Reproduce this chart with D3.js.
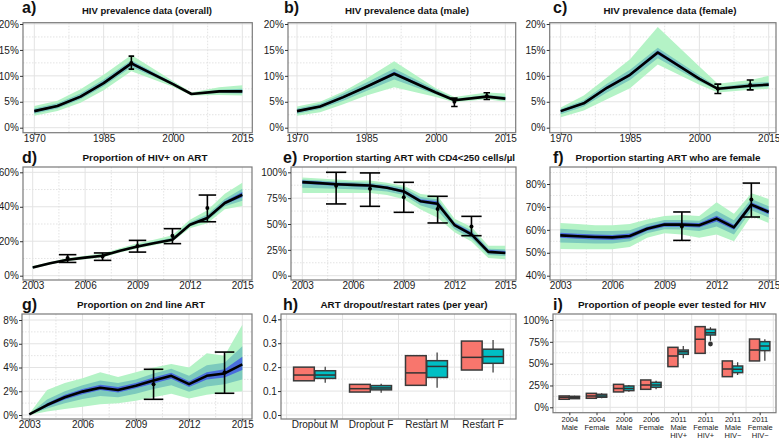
<!DOCTYPE html>
<html>
<head>
<meta charset="utf-8">
<script src="https://cdn.jsdelivr.net/npm/d3@7"></script>
<style>
  body { margin: 0; background: #fff; }
</style>
</head>
<body>
<div id="chart"></div>
<script>
const FONT = '"Liberation Sans", Arial, Helvetica, sans-serif';

// ---------- data ----------
// a) HIV prevalence (overall), %
const yearsPrev = [1970, 1975, 1980, 1985, 1991, 2000, 2004, 2010, 2015];
const medA = [3.2, 4.2, 6.0, 8.6, 12.4, 8.4, 6.5, 7.0, 7.0];
const outerLoA = [2.3, 3.2, 4.8, 7.2, 10.9, 7.9, 6.2, 6.3, 6.2];
const outerHiA = [4.2, 5.2, 7.4, 10.2, 14.0, 9.0, 6.8, 7.8, 8.2];
const midLoA = [2.7, 3.7, 5.5, 8.0, 11.7, 8.2, 6.4, 6.7, 6.6];
const midHiA = [3.7, 4.7, 6.6, 9.3, 13.0, 8.7, 6.6, 7.3, 7.5];
const innerLoA = [3.0, 4.0, 5.8, 8.4, 12.1, 8.3, 6.45, 6.9, 6.85];
const innerHiA = [3.4, 4.4, 6.2, 8.9, 12.7, 8.6, 6.55, 7.1, 7.2];
const obsYearA = [1991], obsValA = [12.5], obsLoA = [11.3], obsHiA = [13.8];

// b) HIV prevalence (male), %
const yearsPrevMF = [1970, 1975, 1980, 1985, 1991, 2000, 2004, 2011, 2015];
const medB = [3.2, 4.1, 5.9, 7.9, 10.4, 6.8, 5.3, 6.0, 5.6];
const outerLoB = [2.3, 3.0, 4.5, 6.2, 7.8, 5.9, 4.9, 5.5, 5.0];
const outerHiB = [4.1, 5.0, 7.0, 9.5, 12.8, 7.6, 5.9, 6.8, 6.6];
const midLoB = [2.7, 3.6, 5.2, 7.1, 9.3, 6.4, 5.1, 5.8, 5.3];
const midHiB = [3.7, 4.6, 6.6, 8.7, 11.4, 7.3, 5.6, 6.3, 6.0];
const innerLoB = [3.0, 3.9, 5.7, 7.7, 10.1, 6.7, 5.2, 5.9, 5.5];
const innerHiB = [3.4, 4.3, 6.1, 8.1, 10.8, 7.0, 5.4, 6.1, 5.8];
const obsYearB = [2004, 2011], obsValB = [5.0, 6.1], obsLoB = [4.1, 5.45], obsHiB = [5.7, 6.75];

// c) HIV prevalence (female), %
const medC = [3.2, 4.7, 7.7, 10.2, 14.5, 9.4, 7.5, 8.1, 8.3];
const outerLoC = [2.0, 3.3, 5.5, 7.6, 12.2, 8.3, 6.8, 7.3, 7.5];
const outerHiC = [3.9, 6.2, 9.7, 13.2, 19.4, 11.8, 8.5, 9.2, 10.0];
const midLoC = [2.6, 4.1, 6.8, 9.2, 13.4, 8.9, 7.2, 7.7, 7.9];
const midHiC = [3.6, 5.3, 8.5, 11.2, 15.4, 10.1, 7.8, 8.6, 8.8];
const innerLoC = [3.0, 4.5, 7.4, 9.9, 14.1, 9.3, 7.4, 8.0, 8.1];
const innerHiC = [3.4, 4.9, 8.0, 10.5, 14.9, 9.7, 7.6, 8.2, 8.5];
const obsYearC = [2004, 2011], obsValC = [7.5, 8.25], obsLoC = [6.6, 7.3], obsHiC = [8.4, 9.2];

// d) Proportion of HIV+ on ART, %
const yearsArt = [2003, 2004, 2005, 2006, 2007, 2008, 2009, 2010, 2011, 2012, 2013, 2014, 2015];
const medD = [4.8, 7.2, 9.3, 10.5, 11.6, 14.5, 17.0, 19.0, 20.9, 29.6, 33.5, 42.2, 47.0];
const outerLoD = [4.0, 6.5, 8.5, 9.6, 10.6, 13.5, 15.8, 17.8, 19.8, 27.5, 30.5, 38.5, 40.5];
const outerHiD = [5.6, 8.0, 10.3, 11.6, 12.9, 16.0, 18.8, 21.0, 23.5, 32.5, 38.0, 47.5, 54.0];
const midLoD = [4.4, 6.9, 8.9, 10.1, 11.1, 14.0, 16.4, 18.4, 20.3, 28.5, 32.0, 40.3, 43.5];
const midHiD = [5.2, 7.6, 9.8, 11.0, 12.2, 15.2, 17.8, 20.0, 22.0, 31.0, 35.5, 44.5, 50.5];
const innerLoD = [4.6, 7.0, 9.1, 10.3, 11.4, 14.3, 16.8, 18.8, 20.6, 29.2, 32.9, 41.5, 45.5];
const innerHiD = [5.0, 7.4, 9.5, 10.7, 11.8, 14.7, 17.2, 19.2, 21.2, 30.0, 34.2, 43.2, 48.5];
const obsYearD = [2005, 2007, 2009, 2011, 2013];
const obsValD = [10.3, 11.2, 17.2, 23.2, 39.3];
const obsLoD = [7.7, 8.9, 13.7, 18.6, 31.3];
const obsHiD = [12.2, 13.2, 20.5, 27.3, 46.8];

// e) Proportion starting ART with CD4<250, %
const medE = [90.5, 89.5, 88.5, 87.8, 87.3, 85.0, 81.5, 72.0, 69.5, 49.0, 40.0, 23.0, 22.0];
const outerLoE = [80, 80, 80, 80, 80, 78, 74, 64, 56, 42, 33, 17, 16];
const outerHiE = [95, 94, 93, 92, 92, 90, 87, 79, 77, 55, 47, 29, 29];
const midLoE = [85, 84.5, 84, 83.5, 83, 81.5, 78, 68, 63, 45, 36, 20, 19];
const midHiE = [93, 92, 91, 90.5, 90, 88, 85, 76, 74, 52, 44, 26, 25.5];
const innerLoE = [89, 88, 87, 86.5, 86, 84, 80, 70.5, 68, 47.5, 38.5, 22, 21];
const innerHiE = [92, 91, 90, 89, 88.5, 86.5, 83, 74, 72, 51, 42, 25, 24];
const obsYearE = [2005, 2007, 2009, 2011, 2013];
const obsValE = [87.1, 84.2, 75.8, 64.5, 47.7];
const obsLoE = [69.4, 67.1, 61.3, 51.0, 38.7];
const obsHiE = [100, 99.4, 90.3, 76.8, 57.4];

// f) Proportion starting ART who are female, %
const medF = [57.6, 57.2, 56.9, 56.7, 57.3, 60.5, 62.3, 62.3, 62.0, 64.9, 61.1, 71.0, 67.8];
const outerLoF = [51.6, 51.5, 51.5, 51.5, 52.5, 56.5, 58.5, 58.0, 56.5, 58.0, 55.0, 66.0, 63.0];
const outerHiF = [63.0, 62.5, 62.0, 62.0, 62.5, 64.5, 66.0, 66.5, 66.0, 72.0, 67.0, 76.0, 73.5];
const midLoF = [54.5, 54.3, 54.0, 54.0, 55.0, 58.5, 60.3, 60.2, 59.5, 61.5, 58.0, 68.5, 65.4];
const midHiF = [60.5, 60.0, 59.5, 59.5, 59.8, 62.5, 64.3, 64.3, 64.0, 68.3, 64.2, 73.5, 70.3];
const innerLoF = [56.5, 56.1, 55.8, 55.6, 56.2, 59.6, 61.4, 61.4, 61.0, 63.6, 60.0, 70.0, 66.8];
const innerHiF = [58.7, 58.3, 58.0, 57.8, 58.4, 61.4, 63.2, 63.2, 63.0, 66.2, 62.2, 72.0, 68.8];
const obsYearF = [2010, 2014], obsValF = [61.5, 73.2], obsLoF = [55.4, 65.6], obsHiF = [67.8, 80.4];

// g) Proportion on 2nd line ART, %
const medG = [0.05, 0.84, 1.5, 1.97, 2.3, 2.1, 2.47, 2.9, 3.3, 2.6, 3.3, 3.5, 4.27];
const outerLoG = [0, 0.3, 0.5, 0.7, 0.9, 1.0, 1.2, 1.5, 1.8, 1.4, 1.7, 1.9, 2.0];
const outerHiG = [0.1, 2.1, 2.7, 3.1, 3.6, 3.2, 3.6, 4.0, 4.3, 4.0, 5.2, 5.0, 7.6];
const midLoG = [0.02, 0.55, 1.0, 1.35, 1.6, 1.5, 1.8, 2.2, 2.5, 1.95, 2.4, 2.6, 3.0];
const midHiG = [0.08, 1.3, 2.0, 2.5, 2.9, 2.7, 3.0, 3.5, 3.9, 3.3, 4.2, 4.4, 5.8];
const innerLoG = [0.03, 0.7, 1.3, 1.75, 2.1, 1.9, 2.25, 2.65, 3.05, 2.35, 3.0, 3.15, 3.8];
const innerHiG = [0.07, 0.98, 1.7, 2.2, 2.55, 2.35, 2.7, 3.15, 3.55, 2.85, 3.6, 3.85, 4.9];
const obsYearG = [2010, 2014], obsValG = [2.6, 3.57], obsLoG = [1.32, 1.83], obsHiG = [3.85, 5.3];

// h) ART dropout / restart rates (per year)
const catsH = ['Dropout M', 'Dropout F', 'Restart M', 'Restart F'];
const priorQ1H = [0.143, 0.096, 0.124, 0.188];
const priorMedH = [0.167, 0.110, 0.176, 0.241];
const priorQ3H = [0.200, 0.128, 0.248, 0.309];
const postLoH = [0.135, 0.093, 0.114, 0.178];
const postQ1H = [0.153, 0.105, 0.157, 0.216];
const postMedH = [0.167, 0.113, 0.203, 0.244];
const postQ3H = [0.185, 0.123, 0.227, 0.275];
const postHiH = [0.202, 0.131, 0.261, 0.314];

// i) Proportion of people ever tested for HIV, %
const catsI = ['2004|Male', '2004|Female', '2006|Male', '2006|Female',
  '2011|Male|HIV+', '2011|Female|HIV+', '2011|Male|HIV\u2212', '2011|Female|HIV\u2212'];
const priorQ1I = [9.2, 10.3, 17.6, 20.6, 46.6, 61.8, 35.1, 53.1];
const priorMedI = [11.5, 13.0, 21.4, 25.6, 58.8, 77.9, 43.9, 65.6];
const priorQ3I = [13.0, 16.0, 26.3, 31.3, 68.7, 92.4, 53.1, 78.2];
const postLoI = [9.5, 10.3, 17.9, 20.6, 56.1, 76.3, 37.0, 53.4];
const postQ1I = [9.9, 11.5, 19.1, 22.9, 60.7, 82.8, 39.7, 64.9];
const postMedI = [11.5, 13.0, 21.4, 25.6, 63.7, 85.5, 43.5, 70.2];
const postQ3I = [12.6, 14.9, 24.4, 28.6, 65.6, 89.3, 47.3, 75.2];
const postHiI = [13.3, 16.0, 25.6, 30.5, 70.2, 91.6, 51.5, 77.9];
const outlierCatI = ['2011|Female|HIV+'], outlierValI = [72.5];

// axis ticks
const prevXTicks = [1970, 1985, 2000, 2015];
const prevYTicks = [0, 5, 10, 15, 20];
const artXTicks = [2003, 2006, 2009, 2012, 2015];
const yTicksD = [0, 20, 40, 60];
const yTicksE = [0, 25, 50, 75, 100];
const yTicksF = [40, 50, 60, 70, 80];
const yTicksG = [0, 2, 4, 6, 8];
const yTicksH = [0, 0.1, 0.2, 0.3, 0.4];
const yTicksI = [0, 25, 50, 75, 100];

// ---------- colours ----------
const BAND_COLORS = ['#b4f3c6', '#7ccabd', '#4a6ddd'];
const PRIOR_COLOR = '#F8766D';
const POST_COLOR = '#00BFC4';

const svg = d3.select('#chart').append('svg')
    .attr('width', 779)
    .attr('height', 440)
    .style('font-family', FONT);

function minorsOf(ticks, scale, lo, hi) {
    const step = ticks[1] - ticks[0];
    const out = [];
    for (let v = ticks[0] - step / 2; v <= ticks[ticks.length - 1] + step / 2 + 1e-9; v += step) {
        const px = scale(v);
        if (px > lo + 0.5 && px < hi - 0.5) out.push(v);
    }
    return out;
}

// background, grid, clip; returns groups
function setupPanel(p) {
    const g = svg.append('g');
    svg.append('clipPath').attr('id', 'clip-' + p.id)
        .append('rect')
        .attr('x', p.x0).attr('y', p.y0)
        .attr('width', p.x1 - p.x0).attr('height', p.y1 - p.y0);

    g.append('rect')
        .attr('x', p.x0).attr('y', p.y0)
        .attr('width', p.x1 - p.x0).attr('height', p.y1 - p.y0)
        .attr('fill', '#fff');

    const grid = g.append('g');
    // horizontal
    grid.selectAll('.hmin').data(minorsOf(p.yTicks, p.y, p.y0, p.y1)).join('line')
        .attr('x1', p.x0).attr('x2', p.x1)
        .attr('y1', d => p.y(d)).attr('y2', d => p.y(d))
        .attr('stroke', '#dcdcdc').attr('stroke-width', 0.8).attr('stroke-dasharray', '1.5,1.5');
    grid.selectAll('.hmaj').data(p.yTicks).join('line')
        .attr('x1', p.x0).attr('x2', p.x1)
        .attr('y1', d => p.y(d)).attr('y2', d => p.y(d))
        .attr('stroke', '#e3e3e3').attr('stroke-width', 1);
    // vertical
    if (p.xTicks) {
        grid.selectAll('.vmin').data(minorsOf(p.xTicks, p.x, p.x0, p.x1)).join('line')
            .attr('y1', p.y0).attr('y2', p.y1)
            .attr('x1', d => p.x(d)).attr('x2', d => p.x(d))
            .attr('stroke', '#dcdcdc').attr('stroke-width', 0.8).attr('stroke-dasharray', '1.5,1.5');
        grid.selectAll('.vmaj').data(p.xTicks).join('line')
            .attr('y1', p.y0).attr('y2', p.y1)
            .attr('x1', d => p.x(d)).attr('x2', d => p.x(d))
            .attr('stroke', '#e3e3e3').attr('stroke-width', 1);
    } else {
        const step = p.x.step();
        const cats = p.x.domain();
        const bounds = [p.x(cats[0]) - step / 2].concat(cats.map(c => p.x(c) + step / 2))
            .filter(v => v > p.x0 && v < p.x1);
        grid.selectAll('.vcat').data(bounds).join('line')
            .attr('y1', p.y0).attr('y2', p.y1)
            .attr('x1', d => d).attr('x2', d => d)
            .attr('stroke', '#e3e3e3').attr('stroke-width', 1);
    }

    const plot = g.append('g').attr('clip-path', `url(#clip-${p.id})`);
    return { g, plot };
}

function finishPanel(g, p) {
    g.append('rect')
        .attr('x', p.x0).attr('y', p.y0)
        .attr('width', p.x1 - p.x0).attr('height', p.y1 - p.y0)
        .attr('fill', 'none').attr('stroke', '#7a7a7a').attr('stroke-width', 1.2);

    const ya = g.append('g')
        .attr('transform', `translate(${p.x0},0)`)
        .call(d3.axisLeft(p.y).tickValues(p.yTicks).tickSize(3).tickPadding(1.2).tickFormat(p.yFmt));
    ya.select('.domain').remove();
    ya.attr('font-family', FONT).attr('font-size', 10);
    ya.selectAll('line').attr('stroke', '#333');
    ya.selectAll('text').attr('fill', '#1a1a1a');

    if (p.xTicks) {
        const xa = g.append('g')
            .attr('transform', `translate(0,${p.y1})`)
            .call(d3.axisBottom(p.x).tickValues(p.xTicks).tickSize(2.5).tickPadding(-0.5).tickFormat(d3.format('d')));
        xa.select('.domain').remove();
        xa.attr('font-family', FONT).attr('font-size', 10);
        xa.selectAll('line').attr('stroke', '#333');
        xa.selectAll('text').attr('fill', '#1a1a1a');
    }

    svg.append('text')
        .attr('x', p.letterX).attr('y', p.letterY)
        .attr('font-size', 16).attr('font-weight', 'bold').attr('fill', '#111')
        .text(p.id + ')');
    svg.append('text')
        .attr('x', p.titleX).attr('y', p.titleY)
        .attr('text-anchor', 'middle')
        .attr('font-size', 9.5).attr('font-weight', 'bold').attr('fill', '#111')
        .attr('textLength', p.titleW).attr('lengthAdjust', 'spacingAndGlyphs')
        .text(p.title);
}

function drawBands(plot, p, years, bands, med) {
    bands.forEach((b, k) => {
        const area = d3.area()
            .x(d => p.x(d))
            .y0((d, i) => p.y(b[0][i]))
            .y1((d, i) => p.y(b[1][i]));
        plot.append('path').datum(years)
            .attr('d', area)
            .attr('fill', BAND_COLORS[k]);
    });
    const line = d3.line().x(d => p.x(d)).y((d, i) => p.y(med[i]));
    plot.append('path').datum(years)
        .attr('d', line)
        .attr('fill', 'none')
        .attr('stroke', '#000')
        .attr('stroke-width', 2.6)
        .attr('stroke-linejoin', 'round');
}

function drawErrorBars(g, p, xs, vals, los, his, capYears) {
    xs.forEach((xv, i) => {
        const cx = p.x(xv);
        const half = (p.x(xv + capYears / 2) - cx);
        g.append('line')
            .attr('x1', cx).attr('x2', cx)
            .attr('y1', p.y(los[i])).attr('y2', p.y(his[i]))
            .attr('stroke', '#000').attr('stroke-width', 1.6);
        [los[i], his[i]].forEach(v => {
            g.append('line')
                .attr('x1', cx - half).attr('x2', cx + half)
                .attr('y1', p.y(v)).attr('y2', p.y(v))
                .attr('stroke', '#000').attr('stroke-width', 1.6);
        });
        g.append('circle')
            .attr('cx', cx).attr('cy', p.y(vals[i]))
            .attr('r', 2).attr('fill', '#000');
    });
}

function drawBoxes(g, p, cats, q1, med, q3, color, side, lo, hi) {
    const step = p.x.step();
    const w = step * 0.37;
    cats.forEach((c, i) => {
        const cx = p.x(c) + side * step * 0.19;
        if (lo) {
            g.append('line')
                .attr('x1', cx).attr('x2', cx)
                .attr('y1', p.y(lo[i])).attr('y2', p.y(hi[i]))
                .attr('stroke', '#333').attr('stroke-width', 1.2);
        }
        g.append('rect')
            .attr('x', cx - w / 2).attr('width', w)
            .attr('y', p.y(q3[i])).attr('height', p.y(q1[i]) - p.y(q3[i]))
            .attr('fill', color)
            .attr('stroke', '#3a3a3a').attr('stroke-width', 1.5);
        g.append('line')
            .attr('x1', cx - w / 2).attr('x2', cx + w / 2)
            .attr('y1', p.y(med[i])).attr('y2', p.y(med[i]))
            .attr('stroke', '#333').attr('stroke-width', 1.5);
    });
}

// ---------- panels a-c ----------
const prevPanels = [
    { id: 'a', x0: 23, x1: 252.3, xr: [34.3, 242.3], letterX: 22, titleX: 147, titleW: 130,
      title: 'HIV prevalence data (overall)', years: yearsPrev, med: medA,
      bands: [[outerLoA, outerHiA], [midLoA, midHiA], [innerLoA, innerHiA]],
      obs: [obsYearA, obsValA, obsLoA, obsHiA], cap: 1.2 },
    { id: 'b', x0: 288, x1: 515.7, xr: [297, 505.3], letterX: 284, titleX: 407, titleW: 124,
      title: 'HIV prevalence data (male)', years: yearsPrevMF, med: medB,
      bands: [[outerLoB, outerHiB], [midLoB, midHiB], [innerLoB, innerHiB]],
      obs: [obsYearB, obsValB, obsLoB, obsHiB], cap: 1.4 },
    { id: 'c', x0: 549.7, x1: 776, xr: [560.7, 768.7], letterX: 553, titleX: 670, titleW: 133,
      title: 'HIV prevalence data (female)', years: yearsPrevMF, med: medC,
      bands: [[outerLoC, outerHiC], [midLoC, midHiC], [innerLoC, innerHiC]],
      obs: [obsYearC, obsValC, obsLoC, obsHiC], cap: 1.5 }
];
prevPanels.forEach(p => {
    p.y0 = 22.7; p.y1 = 132.7; p.letterY = 13; p.titleY = 14;
    p.x = d3.scaleLinear().domain([1970, 2015]).range(p.xr);
    p.y = d3.scaleLinear().domain([0, 20]).range([127.7, 24]);
    p.xTicks = prevXTicks; p.yTicks = prevYTicks;
    p.yFmt = d => d + '%';
    const { g, plot } = setupPanel(p);
    drawBands(plot, p, p.years, p.bands, p.med);
    drawErrorBars(plot, p, ...p.obs, p.cap);
    finishPanel(g, p);
});

// ---------- panels d-g ----------
const artPanels = [
    { id: 'd', x0: 23, x1: 252, y0: 167, y1: 280, xr: [32.7, 242.3], yd: [0, 60], yr: [275.7, 172.3],
      yTicks: yTicksD, letterX: 22, letterY: 162.5, titleX: 145, titleY: 161.3, titleW: 125,
      title: 'Proportion of HIV+ on ART', med: medD,
      bands: [[outerLoD, outerHiD], [midLoD, midHiD], [innerLoD, innerHiD]],
      obs: [obsYearD, obsValD, obsLoD, obsHiD], cap: 1.0 },
    { id: 'e', x0: 291, x1: 516, y0: 167, y1: 280, xr: [302.3, 505.3], yd: [0, 100], yr: [275.7, 172.3],
      yTicks: yTicksE, letterX: 283, letterY: 162.5, titleX: 409, titleY: 161.3, titleW: 212,
      title: 'Proportion starting ART with CD4<250 cells/\u00b5l', med: medE,
      bands: [[outerLoE, outerHiE], [midLoE, midHiE], [innerLoE, innerHiE]],
      obs: [obsYearE, obsValE, obsLoE, obsHiE], cap: 1.2 },
    { id: 'f', x0: 550, x1: 776, y0: 167, y1: 280, xr: [560.3, 768.7], yd: [40, 80], yr: [275.7, 184],
      yTicks: yTicksF, letterX: 553, letterY: 162.5, titleX: 668, titleY: 161.3, titleW: 185,
      title: 'Proportion starting ART who are female', med: medF,
      bands: [[outerLoF, outerHiF], [midLoF, midHiF], [innerLoF, innerHiF]],
      obs: [obsYearF, obsValF, obsLoF, obsHiF], cap: 1.0 },
    { id: 'g', x0: 22, x1: 252, y0: 314, y1: 419, xr: [29.3, 242.3], yd: [0, 8], yr: [415, 320],
      yTicks: yTicksG, letterX: 22, letterY: 309.5, titleX: 141, titleY: 308.3, titleW: 128,
      title: 'Proportion on 2nd line ART', med: medG,
      bands: [[outerLoG, outerHiG], [midLoG, midHiG], [innerLoG, innerHiG]],
      obs: [obsYearG, obsValG, obsLoG, obsHiG], cap: 1.1 }
];
artPanels.forEach(p => {
    p.x = d3.scaleLinear().domain([2003, 2015]).range(p.xr);
    p.y = d3.scaleLinear().domain(p.yd).range(p.yr);
    p.xTicks = artXTicks;
    p.yFmt = d => d + '%';
    const { g, plot } = setupPanel(p);
    drawBands(plot, p, yearsArt, p.bands, p.med);
    drawErrorBars(plot, p, ...p.obs, p.cap);
    finishPanel(g, p);
});

// ---------- panel h ----------
{
    const p = { id: 'h', x0: 281, x1: 516, y0: 314, y1: 419, letterX: 283, letterY: 309.5,
        titleX: 404, titleY: 308.3, titleW: 167, title: 'ART dropout/restart rates (per year)' };
    p.x = d3.scalePoint().domain(catsH).range([p.x0, p.x1]).padding(0.6);
    p.y = d3.scaleLinear().domain([0, 0.4]).range([415, 319.3]);
    p.yTicks = yTicksH;
    p.yFmt = d3.format('.1f');
    const { g, plot } = setupPanel(p);
    drawBoxes(plot, p, catsH, priorQ1H, priorMedH, priorQ3H, PRIOR_COLOR, -1);
    drawBoxes(plot, p, catsH, postQ1H, postMedH, postQ3H, POST_COLOR, 1, postLoH, postHiH);
    finishPanel(g, p);
    const xa = g.append('g')
        .attr('transform', `translate(0,${p.y1})`)
        .call(d3.axisBottom(p.x).tickSize(2.5).tickPadding(-0.5));
    xa.select('.domain').remove();
    xa.attr('font-family', FONT).attr('font-size', 10);
    xa.selectAll('line').attr('stroke', '#333');
    xa.selectAll('text').attr('fill', '#1a1a1a');
}

// ---------- panel i ----------
{
    const p = { id: 'i', x0: 553, x1: 776, y0: 314, y1: 412.7, letterX: 553, letterY: 309.5,
        titleX: 672, titleY: 308.3, titleW: 188, title: 'Proportion of people ever tested for HIV' };
    p.x = d3.scalePoint().domain(catsI).range([p.x0, p.x1]).padding(0.6);
    p.y = d3.scaleLinear().domain([0, 100]).range([407.3, 320]);
    p.yTicks = yTicksI;
    p.yFmt = d => d + '%';
    const { g, plot } = setupPanel(p);
    drawBoxes(plot, p, catsI, priorQ1I, priorMedI, priorQ3I, PRIOR_COLOR, -1);
    drawBoxes(plot, p, catsI, postQ1I, postMedI, postQ3I, POST_COLOR, 1, postLoI, postHiI);
    const step = p.x.step();
    outlierCatI.forEach((c, i) => {
        plot.append('circle')
            .attr('cx', p.x(c) + step * 0.19).attr('cy', p.y(outlierValI[i]))
            .attr('r', 2.4).attr('fill', '#333');
    });
    finishPanel(g, p);
    const xa = g.append('g')
        .attr('transform', `translate(0,${p.y1})`)
        .call(d3.axisBottom(p.x).tickSize(2.5).tickFormat(''));
    xa.select('.domain').remove();
    xa.selectAll('line').attr('stroke', '#333');
    xa.selectAll('.tick').each(function (d) {
        const t = d3.select(this).append('text')
            .attr('fill', '#1a1a1a')
            .attr('font-family', FONT)
            .attr('font-size', 7.5)
            .attr('text-anchor', 'middle');
        d.split('|').forEach((s, k) => {
            t.append('tspan').attr('x', 0).attr('y', 9 + k * 8.3).text(s);
        });
    });
}
</script>
</body>
</html>
